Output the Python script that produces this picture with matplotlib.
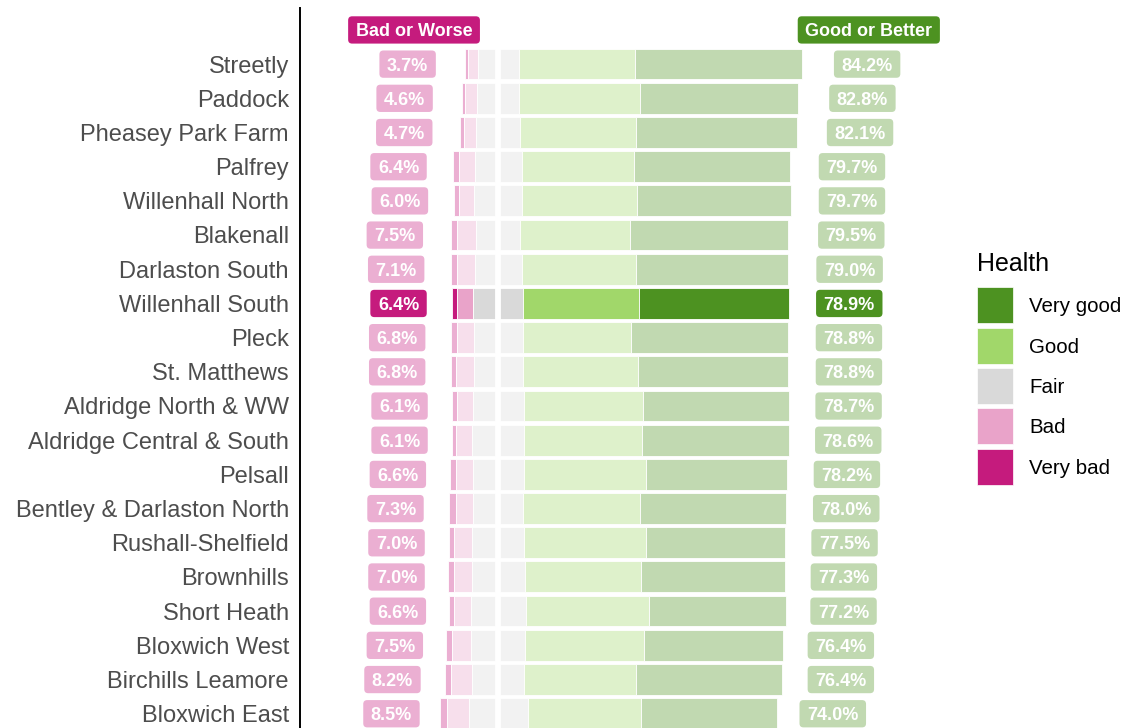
import matplotlib.pyplot as plt
from matplotlib.patches import Patch, Rectangle, BoxStyle
from matplotlib.legend_handler import HandlerPatch
import numpy as np

plt.rcParams['font.family'] = ['Liberation Sans', 'DejaVu Sans']

wards = ['Streetly', 'Paddock', 'Pheasey Park Farm', 'Palfrey', 'Willenhall North',
         'Blakenall', 'Darlaston South', 'Willenhall South', 'Pleck', 'St. Matthews',
         'Aldridge North & WW', 'Aldridge Central & South', 'Pelsall',
         'Bentley & Darlaston North', 'Rushall-Shelfield', 'Brownhills', 'Short Heath',
         'Bloxwich West', 'Birchills Leamore', 'Bloxwich East']
very_bad = [0.8, 1.0, 1.0, 1.7, 1.5, 1.8, 1.7, 1.5, 1.8, 1.6, 1.4, 1.3, 1.6, 2.0, 1.7, 1.7, 1.7, 1.7, 2.0, 1.9]
bad = [2.9, 3.6, 3.7, 4.7, 4.5, 5.7, 5.4, 4.9, 5.0, 5.2, 4.7, 4.8, 5.0, 5.3, 5.3, 5.3, 4.9, 5.8, 6.2, 6.6]
fair = [12.1, 12.6, 13.2, 13.9, 14.3, 13.0, 13.9, 14.7, 14.4, 14.4, 15.2, 15.3, 15.2, 14.7, 15.5, 15.7, 16.2, 16.1, 15.4, 17.5]
good = [34.4, 35.8, 34.4, 33.3, 33.9, 32.6, 33.8, 34.3, 32.1, 34.2, 35.4, 35.1, 36.2, 34.6, 36.0, 34.6, 36.7, 35.3, 33.3, 33.6]
very_good = [49.8, 47.0, 47.7, 46.4, 45.8, 46.9, 45.2, 44.6, 46.7, 44.6, 43.3, 43.5, 42.0, 43.4, 41.5, 42.7, 40.5, 41.1, 43.1, 40.4]
highlight = 'Willenhall South'

levels = ['Very good', 'Good', 'Fair', 'Bad', 'Very bad']
colors = {'Very bad': '#C51B7D', 'Bad': '#E9A3C9', 'Fair': '#D9D9D9',
          'Good': '#A1D76A', 'Very good': '#4D9221'}
FADE = 0.35


def fade(hexcol, a=FADE):
    c = np.array([int(hexcol[i:i + 2], 16) for i in (1, 3, 5)]) / 255
    return tuple(1 - a * (1 - c))


def pill_box(x0, y0, width, height, mutation_size):
    # rounded label box, centred on the glyphs (descent trimmed off)
    padx = 0.42 * mutation_size
    pady = 0.39 * mutation_size
    d = 0.21 * mutation_size
    rnd = BoxStyle.Round(pad=0, rounding_size=0.22)
    return rnd(x0 - padx, y0 + d - pady, width + 2 * padx, height - d + 2 * pady, mutation_size)


def square_key(legend, orig_handle, xdescent, ydescent, width, height, fontsize):
    s = 25.9
    return Rectangle((-xdescent + width / 2 - s / 2, -ydescent + height / 2 - s / 2), s, s)


vb = np.array(very_bad)
b = np.array(bad)
f = np.array(fair)
g = np.array(good)
vg = np.array(very_good)
bw = vb + b
gb = g + vg
y = np.arange(len(wards))

fig = plt.figure(figsize=(11.27, 7.28), dpi=100)
ax = fig.add_axes([300 / 1127, 0, 650 / 1127, 719.7 / 728])

segments = [
    ('Very bad', vb, -(f / 2 + b + vb)),
    ('Bad', b, -(f / 2 + b)),
    ('Fair', f, -f / 2),
    ('Good', g, f / 2),
    ('Very good', vg, f / 2 + g),
]
is_hl = np.array([w == highlight for w in wards])
for name, width, left in segments:
    cols = [colors[name] if h else fade(colors[name]) for h in is_hl]
    ax.barh(y, width, left=left, height=0.9, color=cols, edgecolor='white', linewidth=0.6)

# white gap splitting fair in two halves
ax.axvline(0, color='white', lw=4.2)

txt = dict(ha='center', va='center_baseline', color='white', fontsize=13, fontweight='bold')
for i in range(len(wards)):
    lc = colors['Very bad'] if is_hl[i] else fade(colors['Very bad'])
    rc = colors['Very good'] if is_hl[i] else fade(colors['Very good'])
    ax.text(-(bw[i] + 23.2), y[i], '{:.1f}%'.format(bw[i]),
            bbox=dict(boxstyle=pill_box, facecolor=lc, linewidth=0), **txt)
    ax.text(gb[i] + 25.3, y[i], '{:.1f}%'.format(gb[i]),
            bbox=dict(boxstyle=pill_box, facecolor=rc, linewidth=0), **txt)

ax.text(-25.0, -1, 'Bad or Worse',
        bbox=dict(boxstyle=pill_box, facecolor=colors['Very bad'], linewidth=0), **txt)
ax.text(110.0, -1, 'Good or Better',
        bbox=dict(boxstyle=pill_box, facecolor=colors['Very good'], linewidth=0), **txt)

ax.set_xlim(-58.85, 134.1)
ax.set_ylim(19.42, -1.63)
ax.set_yticks(y)
ax.set_yticklabels(wards, fontsize=17, color='#4D4D4D')
ax.tick_params(axis='y', length=0, pad=8)
ax.set_xticks([])
for s in ['top', 'right', 'bottom']:
    ax.spines[s].set_visible(False)
ax.spines['left'].set_linewidth(1.4)
ax.spines['left'].set_color('black')

handles = [Patch(facecolor=colors[l], edgecolor='white', linewidth=0.5, label=l) for l in levels]
fig.legend(handles=handles, title='Health', loc='upper left',
           bbox_to_anchor=(977 / 1127, 1 - 252 / 728), frameon=False, fontsize=14.8,
           title_fontsize=18, handlelength=1.75, handleheight=1.254, labelspacing=0.9,
           handletextpad=0.78, borderpad=0, borderaxespad=0, alignment='left',
           handler_map={Patch: HandlerPatch(patch_func=square_key)})

fig.savefig('out.png', dpi=100)
